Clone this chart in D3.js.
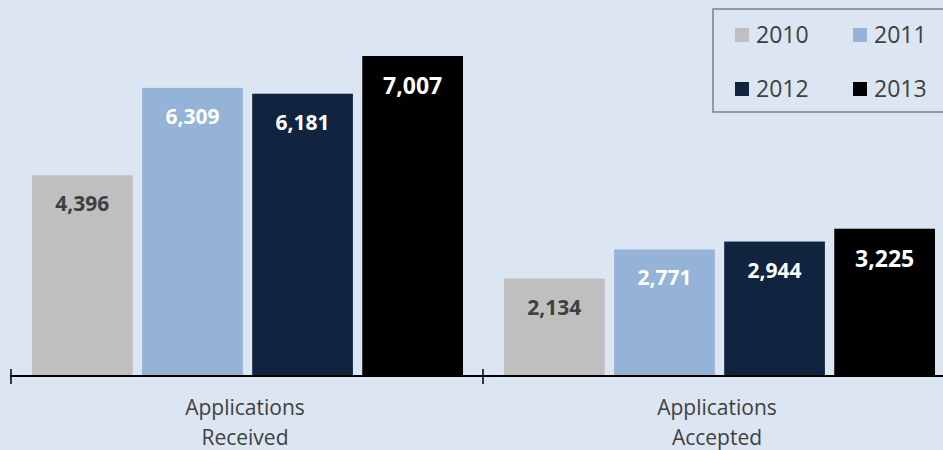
<!DOCTYPE html>
<html><head><meta charset="utf-8">
<script src="https://cdn.jsdelivr.net/npm/d3@7"></script>
<style>
html,body{margin:0;padding:0;background:#dce6f2;}
svg{display:block;}
text{font-family:"Open Sans",sans-serif;}
</style></head><body>
<svg id="chart" width="943" height="450"></svg>
<script>
const categories = ["Applications Received", "Applications Accepted"];
const categoryLines = [["Applications","Received"],["Applications","Accepted"]];
const years = ["2010","2011","2012","2013"];
const values2010 = [4396, 2134];
const values2011 = [6309, 2771];
const values2012 = [6181, 2944];
const values2013 = [7007, 3225];
const colors = ["#bfbfbf","#95b3d7","#10243f","#000000"];
const labelColors = ["#404040","#ffffff","#ffffff","#ffffff"];

const series = [values2010, values2011, values2012, values2013];
const svg = d3.select("#chart");
svg.append("rect").attr("width",943).attr("height",450).attr("fill","#dce6f2");

const baseY = 376;
const x0 = d3.scaleBand().domain(categories).range([10, 954]).paddingInner(0).paddingOuter(0);
const x1 = d3.scaleBand().domain(years).range([22, 453]).paddingInner(0.085).paddingOuter(0);
const y = d3.scaleLinear().domain([0, 7007]).range([baseY, 56]);

const g = svg.append("g");
categories.forEach((c, ci) => {
  years.forEach((yr, si) => {
    const v = series[si][ci];
    const bx = x0(c) + x1(yr);
    g.append("rect")
      .attr("x", bx).attr("y", y(v))
      .attr("width", x1.bandwidth()).attr("height", baseY - y(v))
      .attr("fill", colors[si]);
    const big = si === 3;
    g.append("text")
      .attr("x", bx + x1.bandwidth()/2)
      .attr("y", y(v) + (big ? 38 : 36))
      .attr("text-anchor","middle")
      .attr("font-weight","bold")
      .attr("font-size", big ? 23 : 21)
      .attr("fill", labelColors[si])
      .text(d3.format(",")(v));
  });
});

// axis
svg.append("line").attr("x1",10).attr("x2",943).attr("y1",baseY).attr("y2",baseY)
  .attr("stroke","#000").attr("stroke-width",1.8);
const tickPos = categories.map(c => x0(c) + 1);
svg.selectAll(".tick").data(tickPos).enter().append("line")
  .attr("x1", d=>d).attr("x2", d=>d).attr("y1", baseY-7).attr("y2", baseY+8)
  .attr("stroke","#000").attr("stroke-width",1.5);

categories.forEach((c, ci) => {
  const cx = x0(c) + x0.bandwidth()/2 - 1;
  const t = svg.append("text")
    .attr("x", cx)
    .attr("text-anchor","middle")
    .attr("font-size",21)
    .attr("fill","#404040");
  categoryLines[ci].forEach((ln, li) => {
    t.append("tspan").attr("x", cx).attr("y", 415 + li*30).text(ln);
  });
});

// legend
const lg = svg.append("g");
lg.append("rect").attr("x",713).attr("y",9).attr("width",240).attr("height",103)
  .attr("fill","none").attr("stroke","#808080").attr("stroke-width",1.5);
const legPos = [[735,35],[853,35],[735,89],[853,89]];
years.forEach((yr, i) => {
  const [lx, ly] = legPos[i];
  lg.append("rect").attr("x",lx).attr("y",ly-7).attr("width",14).attr("height",14).attr("fill",colors[i]);
  lg.append("text").attr("x",lx+21).attr("y",ly+8).attr("font-size",23).attr("fill","#404040").text(yr);
});
</script>
</body></html>
